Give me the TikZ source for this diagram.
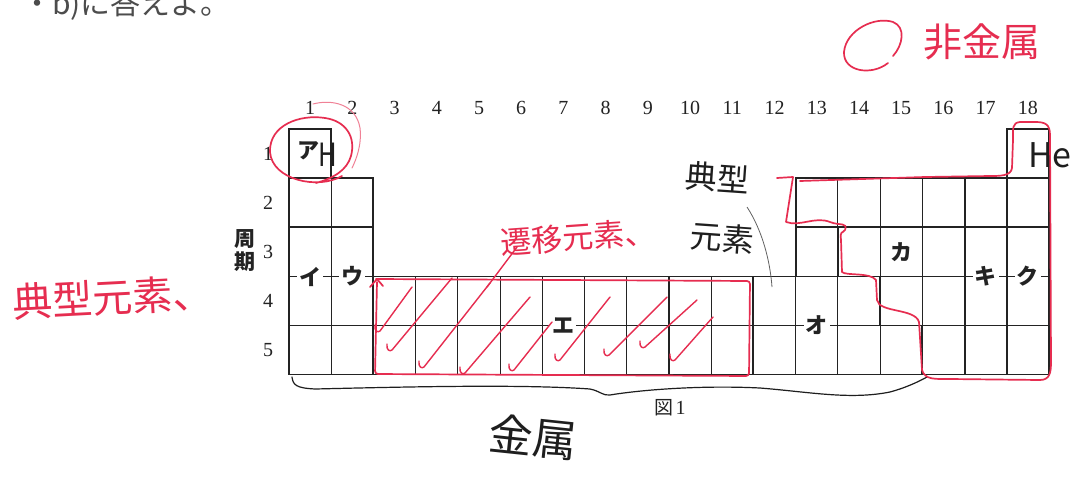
\documentclass[tikz,border=0pt]{standalone}
\usepackage{fontspec}
\setmainfont{Liberation Serif}
\newfontfamily\jp{Noto Sans CJK JP}
\definecolor{ink}{RGB}{35,35,35}
\definecolor{pen}{RGB}{230,45,80}
\definecolor{hand}{RGB}{30,30,30}
\newcommand\cx[1]{289+42.222*#1}
\tikzset{
 thinl/.style={draw=ink,line width=1.1pt},
 thickl/.style={draw=ink,line width=1.9pt},
 redpen/.style={draw=pen,line width=1.7pt,line cap=round,line join=round},
 blkpen/.style={draw=hand,line width=1.3pt,line cap=round,line join=round},
 num/.style={font=\fontsize{20}{20}\selectfont,text=ink,inner sep=0pt},
 kana/.style={font=\jp\bfseries\fontsize{22}{22}\selectfont,text=ink,fill=white,inner sep=2pt},
 redtxt/.style={text=pen,inner sep=0pt},
 blktxt/.style={text=hand,inner sep=0pt},
}
\begin{document}
\begin{tikzpicture}[x=1pt,y=-1pt]
\useasboundingbox (0,0) rectangle (1074,477);
\clip (0,0) rectangle (1074,477);
\fill[white] (0,0) rectangle (1074,477);

% cut-off question text (cut at the top edge, as in the reference)
\node[anchor=base west,text=black!70,font=\jp\fontsize{30}{30}\selectfont,inner sep=0pt] (q) at (22,14) {・b)に答えよ。};

% column and row numbers
\foreach \i in {1,...,18} \node[num] (c\i) at ({\cx{\i}-21.111},108) {\i};
\foreach \j/\yy in {1/153.5,2/202.5,3/251.75,4/301,5/350} \node[num] (r\j) at (268,\yy) {\j};
\node[font=\jp\bfseries\fontsize{21}{23}\selectfont,text=ink,align=center,inner sep=0pt] (period) at (245,251) {周\\期};

% thin grid lines
\draw[thinl] (\cx{0},178) -- (\cx{1},178);
\draw[thinl] (\cx{17},178) -- (\cx{18},178);
\draw[thinl] (\cx{0},227) -- (\cx{2},227);
\draw[thinl] (\cx{13},227) -- (\cx{18},227);
\draw[thinl] (\cx{0},276.5) -- (\cx{2},276.5);
\draw[thinl] (\cx{12},276.5) -- (\cx{13},276.5);
\draw[thinl] (\cx{14},276.5) -- (\cx{18},276.5);
\draw[thinl] (\cx{0},325.5) -- (\cx{14},325.5);
\draw[thinl] (\cx{15},325.5) -- (\cx{18},325.5);
\draw[thinl] (\cx{1},178) -- (\cx{1},374.5);
\foreach \i in {3,...,10,12} \draw[thinl] ({\cx{\i}},276.5) -- ({\cx{\i}},374.5);
\draw[thinl] (\cx{13},178) -- (\cx{13},227) (\cx{13},276.5) -- (\cx{13},374.5);
\draw[thinl] (\cx{14},178) -- (\cx{14},276.5) (\cx{14},325.5) -- (\cx{14},374.5);
\draw[thinl] (\cx{15},178) -- (\cx{15},325.5);

% thick lines
\draw[thickl] (\cx{2},276.5) -- (\cx{2},374.5);
\draw[thickl] (\cx{11},276.5) -- (\cx{11},374.5);
\draw[thickl] (\cx{16},178) -- (\cx{16},374.5);
\draw[thickl] (\cx{17},178) -- (\cx{17},374.5);
\draw[thickl] (\cx{12},227) -- (\cx{13},227) -- (\cx{13},276.5) -- (\cx{14},276.5) -- (\cx{14},325.5) -- (\cx{15},325.5) -- (\cx{15},374.5);
\draw[thickl] (\cx{0},129) -- (\cx{1},129) -- (\cx{1},178) -- (\cx{2},178) -- (\cx{2},276.5) -- (\cx{12},276.5) -- (\cx{12},178) -- (\cx{17},178) -- (\cx{17},129) -- (\cx{18},129) -- (\cx{18},374.5) -- (\cx{0},374.5) -- cycle;

% printed labels
\node[kana,fill=none] (a) at (308,151) {ア};
\node[kana] (i) at (\cx{0.5},276.5) {イ};
\node[kana] (u) at (\cx{1.5},276.5) {ウ};
\node[kana] (e) at (\cx{6.5},325.5) {エ};
\node[kana] (o) at (\cx{12.5},325.5) {オ};
\node[kana,fill=none] (ka) at (\cx{14.5},251.75) {カ};
\node[kana] (ki) at (\cx{16.5},276.5) {キ};
\node[kana] (ku) at (\cx{17.5},276.5) {ク};
\node[num] (fig) at (670,408) {{\jp\fontsize{19}{19}\selectfont 図}\hspace{2pt}1};

% ---- handwriting: black ----
\node[blktxt,font=\jp\fontsize{32}{32}\selectfont,xscale=0.8] (H) at (328,155) {H};
\node[blktxt,font=\jp\fontsize{34}{34}\selectfont] (He) at (1050,155) {He};
\node[blktxt,font=\jp\fontsize{32}{32}\selectfont,rotate=-4] (ten1) at (717,178) {典型};
\node[blktxt,font=\jp\fontsize{32}{32}\selectfont,rotate=-4] (ten2) at (722,238) {元素};
\node[blktxt,font=\jp\fontsize{44}{44}\selectfont,rotate=-6] (kin) at (533,437) {金属};
\draw[draw=hand!70,line width=0.8pt] (747,207) coordinate (ls) .. controls (762,230) and (770,260) .. (772,287) coordinate (le);
% brace under metals
\draw[blkpen,line width=1.2pt] (292,377) .. controls (293,385) and (296,388) .. (315,389)
  .. controls (400,387) and (520,384) .. (590,389) .. controls (600,391) and (603,396) .. (610,395)
  .. controls (640,390) and (700,385) .. (760,388) .. controls (810,392) and (850,400) .. (890,392)
  .. controls (905,388) and (918,382) .. (927,377);

% ---- handwriting: red ----
\node[redtxt,font=\jp\fontsize{40}{40}\selectfont,rotate=3] (tenL) at (113,297) {典型元素、};
\node[redtxt,font=\jp\fontsize{31}{31}\selectfont,rotate=4] (sen) at (578,237) {遷移元素、};
\node[redtxt,font=\jp\fontsize{39}{39}\selectfont] (hi) at (982,42) {非金属};
\draw[redpen] (888,63) .. controls (872,76) and (843,72) .. (844,52) .. controls (846,30) and (875,16) .. (893,22) .. controls (906,27) and (903,45) .. (893,56);
% circle around H
\draw[redpen] (342,176) .. controls (318,190) and (272,180) .. (270,152) .. controls (269,125) and (300,114) .. (325,118) .. controls (346,121) and (356,137) .. (351,156) .. controls (347,170) and (334,178) .. (316,183);
\draw[draw=pen!60,line width=1pt,line cap=round] (313,104) .. controls (332,99) and (356,104) .. (360,128) .. controls (362,145) and (356,160) .. (352,168);
% transition block
\draw[redpen,rounded corners=3pt] (377,282) -- (375,374) -- (749,376) -- (750,281) -- (376,279);
\draw[redpen] (370,287) -- (377,279) -- (383,286);
\foreach \a/\b/\c/\d in {378/331/412/287, 390/350/452/278, 422/367/490/283, 463/373/530/297, 512/370/552/322, 558/360/610/297, 607/355/667/297, 643/347/697/300, 673/360/713/317}
  \draw[redpen,line width=1.4pt] (\a-3,\b-6) .. controls (\a-4,\b) and (\a,\b+2) .. (\a+2,\b) -- (\c,\d);
\draw[redpen,line width=1.4pt] (487,287) -- (517,247);
% non-metal outline
\draw[redpen] (777,178) -- (793,177) -- (786,222) .. controls (800,227) and (815,216) .. (830,222)
  .. controls (840,226) and (848,222) .. (845,230) .. controls (842,234) and (840,230) .. (841,240)
  -- (842,272) .. controls (846,276) and (870,272) .. (876,280) -- (877,300)
  .. controls (879,313) and (915,308) .. (919,322) -- (922,370) .. controls (925,380) and (935,379) .. (950,379)
  -- (1040,380) .. controls (1050,380) and (1051,372) .. (1051,362) -- (1050,135)
  .. controls (1050,124) and (1045,122) .. (1035,122) -- (1020,122) .. controls (1012,123) and (1013,128) .. (1013,140)
  -- (1012,168) .. controls (1011,176) and (1000,176) .. (990,176) -- (925,177) -- (800,181);
\end{tikzpicture}
\end{document}
